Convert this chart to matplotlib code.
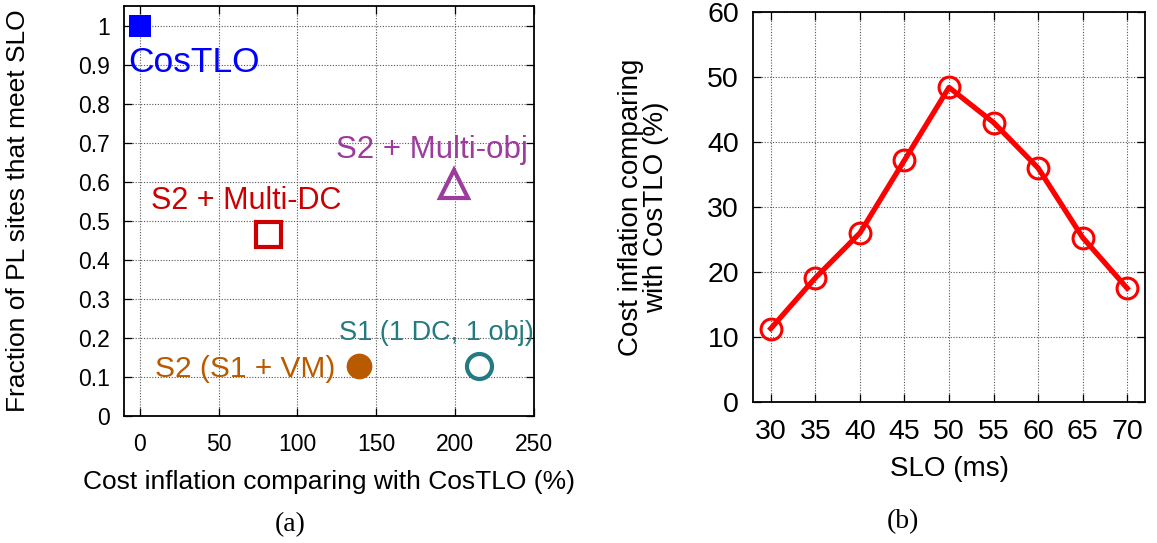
import matplotlib
matplotlib.use("Agg")
import matplotlib.pyplot as plt

plt.rcParams['font.family'] = ['Liberation Sans', 'DejaVu Sans']

# Panel (a) data
names = ["CosTLO", "S2 + Multi-DC", "S2 + Multi-obj", "S2 (S1 + VM)", "S1 (1 DC, 1 obj)"]
cost_inflation = [0, 81, 199, 139, 215]
fraction_meet = [1.0, 0.467, 0.595, 0.128, 0.128]
colors_a = ["#0000ff", "#cc0000", "#9c3c9c", "#b85a00", "#237a80"]
markers_a = ["s", "s", "^", "o", "o"]
filled_a = [True, False, False, True, False]
xticks_a = [0, 50, 100, 150, 200, 250]
yticks_a = [0, 0.1, 0.2, 0.3, 0.4, 0.5, 0.6, 0.7, 0.8, 0.9, 1]
ytick_labels_a = ["0", "0.1", "0.2", "0.3", "0.4", "0.5", "0.6", "0.7", "0.8", "0.9", "1"]

# Panel (b) data
slo = [30, 35, 40, 45, 50, 55, 60, 65, 70]
inflation = [11.3, 19.1, 26.0, 37.2, 48.4, 43.0, 36.0, 25.3, 17.5]
yticks_b = [0, 10, 20, 30, 40, 50, 60]

W, H = 1157, 543
fig = plt.figure(figsize=(W / 100, H / 100), dpi=100)

def ax_rect(l, t, r, b):
    return [l / W, 1 - b / H, (r - l) / W, (b - t) / H]

def style(ax, fs):
    ax.grid(True, linestyle=(0, (1, 1.5)), color="#555555", linewidth=0.8)
    ax.tick_params(direction='in', top=True, right=True, length=6, width=0.9,
                   labelsize=fs, pad=10)
    for s in ax.spines.values():
        s.set_linewidth(1.3)
    ax.set_axisbelow(True)

# Panel (a)
ax1 = fig.add_axes(ax_rect(124, 6, 534, 416))
style(ax1, 16.5)
msizes = [16.5, 18, 20, 18.5, 18]
mews = [0, 3, 3, 0, 3]
for x, y, c, m, f, ms, mw in zip(cost_inflation, fraction_meet, colors_a, markers_a,
                                 filled_a, msizes, mews):
    ax1.plot([x], [y], linestyle='none', marker=m, markersize=ms,
             markerfacecolor=c if f else 'none', markeredgecolor=c,
             markeredgewidth=mw, clip_on=False, zorder=3)
ax1.set_xlim(-10, 250)
ax1.set_ylim(0, 1.05)
ax1.set_xticks(xticks_a)
ax1.set_yticks(yticks_a)
ax1.set_yticklabels(ytick_labels_a)
ax1.tick_params(axis='x', pad=12)
ax1.set_xlabel("Cost inflation comparing with CosTLO (%)", fontsize=19, labelpad=10)
ax1.set_ylabel("Fraction of PL sites that meet SLO", fontsize=19)
ax1.yaxis.set_label_coords(-0.229, 0.5)

label_pos = [(-7, 0.905, 'left'), (67.7, 0.551, 'center'), (185, 0.682, 'center'),
             (66.8, 0.12, 'center'), (188.3, 0.213, 'center')]
label_fs = [25.5, 22, 22.5, 21.5, 19.5]
for name, (lx, ly, ha), c, fs in zip(names, label_pos, colors_a, label_fs):
    ax1.text(lx, ly, name, color=c, fontsize=fs, ha=ha, va='center', zorder=4)

# Panel (b)
ax2 = fig.add_axes(ax_rect(753, 12, 1145, 402))
style(ax2, 20.5)
ax2.plot(slo, inflation, color="#ff0000", linewidth=3.8, marker='o', markersize=15,
         markerfacecolor='none', markeredgecolor="#ff0000", markeredgewidth=2.2,
         clip_on=False, zorder=3)
ax2.set_xlim(28, 72)
ax2.set_ylim(0, 60)
ax2.set_xticks(slo)
ax2.set_yticks(yticks_b)
ax2.tick_params(axis='x', pad=12)
ax2.set_xlabel("SLO (ms)", fontsize=20, labelpad=8)
ax2.set_ylabel("Cost inflation comparing\nwith CosTLO (%)", fontsize=20, linespacing=0.95)
ax2.yaxis.set_label_coords(-0.214, 0.5)

fig.text(290 / W, 1 - 525 / H, "(a)", fontsize=20, family=['Liberation Serif', 'DejaVu Serif'],
         ha='center', va='center')
fig.text(903 / W, 1 - 522 / H, "(b)", fontsize=20, family=['Liberation Serif', 'DejaVu Serif'],
         ha='center', va='center')

fig.savefig("out.png", dpi=100)
